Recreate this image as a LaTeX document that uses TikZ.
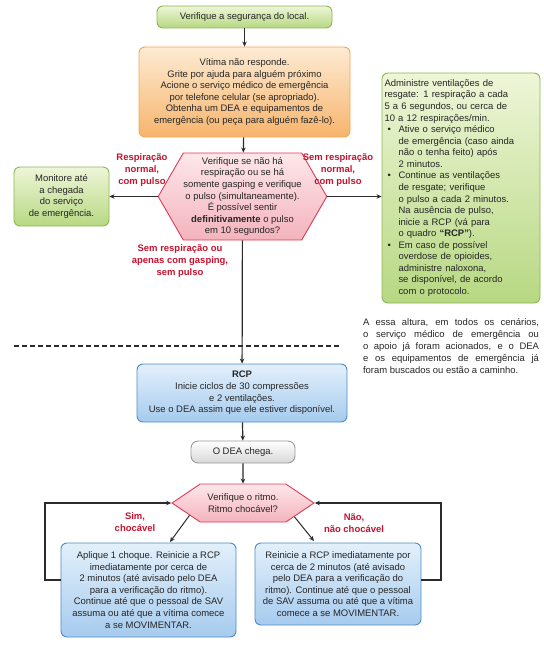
\documentclass[tikz,border=0pt]{standalone}
\usepackage{fontspec}
\setmainfont{Liberation Sans}
\usetikzlibrary{shapes.symbols,arrows.meta}
\definecolor{linec}{HTML}{2B2B2B}
\definecolor{redtext}{HTML}{C4122F}
\definecolor{greentop}{HTML}{EEF6D8}
\definecolor{greenbot}{HTML}{B7D882}
\definecolor{greenline}{HTML}{8FB552}
\definecolor{orangetop}{HTML}{FDEBD3}
\definecolor{orangebot}{HTML}{F7B46C}
\definecolor{orangeline}{HTML}{F1A758}
\definecolor{pinktop}{HTML}{FDE7EA}
\definecolor{pinkbot}{HTML}{F4B3BD}
\definecolor{pinkline}{HTML}{DC3C55}
\definecolor{bluetop}{HTML}{E3F0FB}
\definecolor{bluebot}{HTML}{A6CBEE}
\definecolor{blueline}{HTML}{4D8BC8}
\definecolor{graybot}{HTML}{D8D8D8}
\definecolor{grayline}{HTML}{9A9A9A}
\newcommand\blt{\hspace*{3bp}\makebox[11bp][l]{\textbullet}}
\newcommand\ind{\hspace*{14bp}}
\tikzset{ box/.style = { rectangle % flow box
        , rounded corners = 6bp
        , line width = 0.9bp
        , align = center
        , inner sep = 2bp
        , text = black!85
        , font = \fontsize{9.5}{11.6}\selectfont
        }
        , green_box/.style = { box % green
        , draw = greenline
        , top color = greentop
        , bottom color = greenbot
        }
        , orange_box/.style = { box % orange
        , draw = orangeline
        , top color = orangetop
        , bottom color = orangebot
        }
        , blue_box/.style = { box % blue
        , draw = blueline
        , top color = bluetop
        , bottom color = bluebot
        }
        , gray_box/.style = { box % gray
        , draw = grayline
        , top color = white
        , bottom color = graybot
        }
        , hex_box/.style = { signal % decision
        , signal to = west and east
        , line width = 0.9bp
        , draw = pinkline
        , top color = pinktop
        , bottom color = pinkbot
        , align = center
        , inner sep = 0pt
        , text = black!85
        , font = \fontsize{9.5}{11.6}\selectfont
        }
        , label_style/.style = { align = center % red labels
        , text = redtext
        , inner sep = 0pt
        , font = \fontsize{9.5}{11.6}\selectfont\bfseries
        }
        , edge_style/.style = { draw = linec, line width = 1.2bp
        , -{Stealth[length=5bp,width=4.5bp]}
        }
        }

\begin{document}
\begin{tikzpicture}[x=1bp, y=-1bp]
        \useasboundingbox (0,0) rectangle (544,659);

        \node [green_box, minimum width=175bp, minimum height=22bp] (n1) at (244.5,17) {Verifique a segurança do local.};
        \node [orange_box, minimum width=211bp, minimum height=90bp] (n2) at (244.5,92) {Vítima não responde.\\Grite por ajuda para alguém próximo\\Acione o serviço médico de emergência\\por telefone celular (se apropriado).\\Obtenha um DEA e equipamentos de\\emergência (ou peça para alguém fazê-lo).};
        \node [hex_box, signal pointer angle=120, minimum width=151bp, minimum height=87bp] (n3) at (242.5,196.5) {Verifique se não há\\respiração ou se há\\somente gasping e verifique\\o pulso (simultaneamente).\\É possível sentir\\\textbf{definitivamente} o pulso\\em 10 segundos?};
        \node [green_box, minimum width=95bp, minimum height=59bp] (n4) at (61.5,196.5) {Monitore até\\a chegada\\do serviço\\de emergência.};
        \node [green_box, minimum width=158bp, minimum height=230bp, text width=153bp, inner xsep=2.5bp, align=left] (n5) at (461,188) {Administre ventilações de\\resgate: 1 respiração a cada\\5 a 6 segundos, ou cerca de\\10 a 12 respirações/min.\\\blt Ative o serviço médico\\\ind de emergência (caso ainda\\\ind não o tenha feito) após\\\ind 2 minutos.\\\blt Continue as ventilações\\\ind de resgate; verifique\\\ind o pulso a cada 2 minutos.\\\ind Na ausência de pulso,\\\ind inicie a RCP (vá para\\\ind o quadro \textbf{“RCP”}).\\\blt Em caso de possível\\\ind overdose de opioides,\\\ind administre naloxona,\\\ind se disponível, de acordo\\\ind com o protocolo.};
        \node [box, text width=176bp, align=justify, inner sep=0pt, font=\fontsize{9.5}{12.2}\selectfont] (n11) at (451,346) {A essa altura, em todos os cenários,\linebreak o serviço médico de emergência ou\linebreak o apoio já foram acionados, e o DEA\linebreak e os equipamentos de emergência já\linebreak foram buscados ou estão a caminho.};
        \node [blue_box, minimum width=210bp, minimum height=58bp] (n6) at (242,393) {\textbf{RCP}\\Inicie ciclos de 30 compressões\\e 2 ventilações.\\Use o DEA assim que ele estiver disponível.};
        \node [gray_box, rounded corners=7bp, minimum width=104bp, minimum height=22bp] (n7) at (243,452) {O DEA chega.};
        \node [hex_box, signal pointer angle=68, minimum width=142bp, minimum height=38bp] (n8) at (243,503) {Verifique o ritmo.\\Ritmo chocável?};
        \node [blue_box, minimum width=175bp, minimum height=94bp] (n9) at (148.5,590) {Aplique 1 choque. Reinicie a RCP\\imediatamente por cerca de\\2 minutos (até avisado pelo DEA\\para a verificação do ritmo).\\Continue até que o pessoal de SAV\\assuma ou até que a vítima comece\\a se MOVIMENTAR.};
        \node [blue_box, minimum width=166bp, minimum height=82bp] (n10) at (338,584) {Reinicie a RCP imediatamente por\\cerca de 2 minutos (até avisado\\pelo DEA para a verificação do\\ritmo). Continue até que o pessoal\\de SAV assuma ou até que a vítima\\comece a se MOVIMENTAR.};

        % red labels
        \node [label_style] (t1) at (142,170) {Respiração\\normal,\\com pulso};
        \node [label_style] (t2) at (338,170) {Sem respiração\\normal,\\com pulso};
        \node [label_style] (t3) at (180,261) {Sem respiração ou\\apenas com gasping,\\sem pulso};
        \node [label_style] (t4) at (135,522) {Sim,\\chocável};
        \node [label_style] (t5) at (354,523) {Não,\\não chocável};

        \coordinate (a1) at (170,542);
        \coordinate (a2) at (314,541);
        \coordinate (l1) at (45,580);
        \coordinate (l2) at (45,503);
        \coordinate (r1) at (441,580);
        \coordinate (r2) at (441,503);
        \coordinate (dl) at (14,346);
        \coordinate (dr) at (340,346);

        \draw [linec, line width=1.2bp, dash pattern=on 4.5bp off 3.5bp] (dl) -- (dr);
        \draw [edge_style] (n1) -- (n2);
        \draw [edge_style] (n2) -- (n3);
        \draw [edge_style] (n3.west) -- (n4);
        \draw [edge_style] (n3.east) -- (n5.west |- n3.east);
        \draw [edge_style] (n3) -- (n6);
        \draw [edge_style] (n6) -- (n7);
        \draw [edge_style] (n7) -- (n8);
        \draw [edge_style, line width=1bp] (n8.193) -- (a1);
        \draw [edge_style, line width=1bp] (n8.345) -- (a2);
        \draw [edge_style] (n9.west |- l1) -- (l1) -- (l2) -- (n8.west);
        \draw [edge_style] (n10.east |- r1) -- (r1) -- (r2) -- (n8.east);
\end{tikzpicture}
\end{document}
